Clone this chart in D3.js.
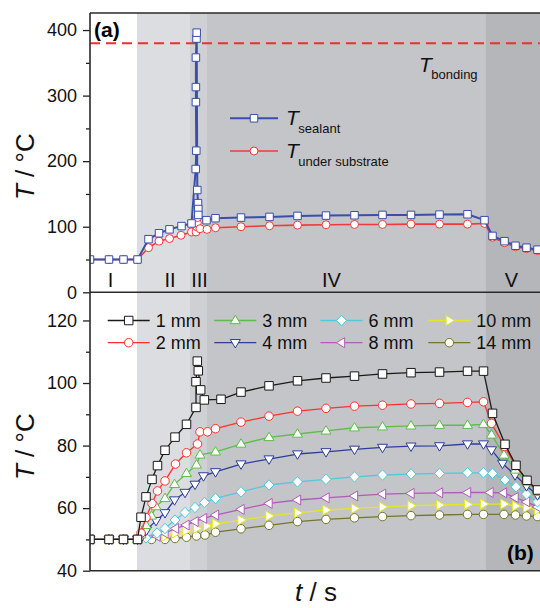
<!DOCTYPE html>
<html>
<head>
<meta charset="utf-8">
<script src="https://cdn.jsdelivr.net/npm/d3@7"></script>
<style>
  body { margin: 0; background: #fff; }
  svg { display: block; font-family: 'Liberation Sans', Arial, sans-serif; }
</style>
</head>
<body>
<div id="chart"></div>
<script>
// time stamps in s, temperatures in °C
const bandEdges = [0, 94, 200, 234, 792, 910]
const bandNames = ['I', 'II', 'III', 'IV', 'V']
const bandLabelT = [41, 160, 219, 483, 843]
const bandColors = ['#ffffff', '#dcdde0', '#cfd0d3', '#c4c5c8', '#b4b6b9']

const tBonding = 380

const sealant = [[0,50],[38,50],[67,50],[95,50],[117,81],[138,90],[159,96],[183,101],[203,105],
  [211.4,188],[212.6,216],[211.8,290],[211.8,313],[211.8,358],[213,387],[213.4,396],
  [214.6,156],[216,136],[216.6,127],[216.6,118],[233,110],[251,113],[302,114],[359,115],
  [415,116.5],[472,117],[529,117.5],[585,118],[642,118],[699,118.5],[755,119],[789,110],
  [805,86],[829,78],[851,71],[873,68],[895,65],[916,63]]

const underSubstrate = [[0,50],[38,50],[67,50],[95,50],[117,68],[138,78],[159,82],[182,87],[203,92],
  [212,92],[214,100],[214.6,106],[215,114],[220,97],[234,96],[251,98.5],[302,100],[359,101.5],
  [415,102.5],[472,103],[529,103.5],[585,103.5],[642,104],[699,104],[755,104],[789,105],
  [805,84],[829,75.6],[851,69.5],[873,66.5],[895,63.5],[916,62]]

const mm1 = [[0,50],[38,50],[67,50],[95,50],[102,57.1],[112,63.6],[124,69.2],[135,73.6],[150,78.5],
  [170,82.7],[193,86.8],[212,92.2],[212,100.4],[214.6,107],[216.6,103.9],[221.4,97.8],[228.7,94.6],
  [262,94.8],[302,97.1],[358,99.1],[415,100.7],[472,101.6],[529,102.2],[585,102.9],[642,103.3],
  [699,103.5],[755,103.8],[787,103.8],[805,90.3],[830,80.4],[852,73.7],[874,68.9],[895,65.8],[916,64]]
const mm2 = [[0,50],[38,50],[67,50],[95,50],[102,52],[112,57],[124,61.5],[135,65.5],[150,68.7],
  [171,74.1],[193,77.7],[215,80.5],[220,84.4],[235,84.4],[251,85.4],[302,87.5],[358,89.4],
  [415,91],[472,91.9],[529,92.6],[585,92.9],[642,93.3],[699,93.5],[755,93.8],[787,94],
  [803,87.1],[829,79.7],[851,73.6],[873,68.9],[895,65.5],[916,63.5]]
const mm3 = [[0,50],[38,50],[67,50],[95,50],[102,51.5],[112,54.5],[123,57.5],[132,60.5],[150,63.1],
  [169,67.6],[193,71.1],[213,73.8],[220,77],[251,78],[302,80.5],[358,82.6],[415,83.7],[472,84.7],
  [529,85.7],[585,86],[642,86.3],[699,86.5],[755,86.5],[787,86.8],[803,83.4],[828,77],[851,72.2],
  [873,68.4],[895,65.2],[916,63]]
const mm4 = [[0,50],[38,50],[67,50],[95,50],[102,50.5],[113,53],[132,56],[150,58.5],[169,62.6],
  [190,65],[210,67.6],[227,70.3],[251,71.6],[302,74.1],[358,75.7],[415,77.3],[472,78],[529,78.8],
  [585,79.4],[642,79.8],[699,79.9],[755,80.5],[787,80.5],[803,78.6],[825,74.3],[850,70.6],
  [873,67.1],[895,64.2],[916,62]]
const mm6 = [[0,50],[38,50],[67,50],[95,50],[112,50.5],[134,52],[150,53.5],[170,56.2],[190,58.6],
  [210,60.2],[229,61.8],[251,63.1],[302,65.2],[358,67.4],[415,68.4],[472,69.2],[529,70],[585,70.6],
  [642,70.9],[699,71.1],[755,71.3],[787,71.3],[805,71.1],[830,69],[852,66.8],[873,64.5],[895,62],[916,60]]
const mm8 = [[0,50],[38,50],[67,50],[95,50],[134,51],[150,52],[171,53.5],[192,54.6],[210,55.7],
  [227,56.7],[251,57.8],[302,59.6],[358,61.5],[415,62.6],[472,63.3],[529,63.9],[585,64.5],[642,64.7],
  [699,64.9],[755,65],[800,65],[827,64.9],[850,63.4],[873,62],[895,60.4],[916,59]]
const mm10 = [[0,50],[38,50],[67,50],[95,50],[150,51],[170,52],[192,52.8],[213,53.5],[233,54.3],
  [251,55],[302,56.2],[358,57.5],[415,58.5],[472,59.4],[529,59.9],[585,60.4],[642,60.8],[699,61],
  [755,61.2],[787,61.3],[828,61.3],[851,60.7],[873,60.2],[895,59.4],[916,58.5]]
const mm14 = [[0,50],[38,50],[67,50],[95,50],[123,50],[150,50],[170,50.3],[193,50.7],[213,51.1],
  [230,51.4],[251,52.3],[302,53.4],[358,54.5],[415,55.7],[472,56.4],[529,56.9],[585,57.3],[642,57.6],
  [699,57.8],[755,58],[787,58],[828,58],[851,57.8],[873,57.5],[895,57.3],[916,57]]

const depthNames = ['1 mm', '2 mm', '3 mm', '4 mm', '6 mm', '8 mm', '10 mm', '14 mm']
const depthData = [mm1, mm2, mm3, mm4, mm6, mm8, mm10, mm14]
const depthColors = ['#1a1a1a', '#ff3030', '#5cbd48', '#2e3d9c', '#4fc9dd', '#b35ab8', '#e6e61e', '#76762a']
const depthSymbols = ['square', 'circle', 'up', 'down', 'diamond', 'left', 'right', 'circle']

const ticksA = [0, 100, 200, 300, 400]
const minorA = [50, 150, 250, 350]
const ticksB = [40, 60, 80, 100, 120]
const minorB = [50, 70, 90, 110]

const width = 540
const height = 608
const left = 90
const right = 545
const topA = 13
const midY = 292.3
const bottomB = 570.7

const svg = d3.select('#chart').append('svg')
  .attr('width', width)
  .attr('height', height)

const x = d3.scaleLinear().domain([0, 910]).range([left, right])
const yA = d3.scaleLinear().domain([0, 426]).range([midY, topA])
const yB = d3.scaleLinear().domain([40, 129]).range([bottomB, midY])

svg.append('defs').append('clipPath').attr('id', 'clip')
  .append('rect').attr('x', left).attr('y', topA).attr('width', right - left).attr('height', bottomB - topA)

const plot = svg.append('g').attr('clip-path', 'url(#clip)')

// shaded stages, spanning both panels
plot.selectAll('.band')
  .data(bandColors)
  .enter().append('rect')
  .attr('x', (d, i) => x(bandEdges[i]))
  .attr('width', (d, i) => x(bandEdges[i + 1]) - x(bandEdges[i]))
  .attr('y', topA)
  .attr('height', bottomB - topA)
  .attr('fill', d => d)

// marker shapes
function markerPath(kind, s) {
  if (kind === 'square') return d3.symbol(d3.symbolSquare, s * s)()
  if (kind === 'circle') return d3.symbol(d3.symbolCircle, Math.PI * (s / 2) * (s / 2))()
  if (kind === 'diamond') {
    const h = s * 0.58
    const v = s * 0.62
    return `M0,${-v}L${h},0L0,${v}L${-h},0Z`
  }
  const r = s * 0.62
  const pts = [[0, -r], [r * 0.95, r * 0.6], [-r * 0.95, r * 0.6]]
  const ang = { up: 0, down: 180, left: -90, right: 90 }[kind] * Math.PI / 180
  return 'M' + pts.map(p => [
    p[0] * Math.cos(ang) - p[1] * Math.sin(ang),
    p[0] * Math.sin(ang) + p[1] * Math.cos(ang)
  ].map(v => v.toFixed(2)).join(',')).join('L') + 'Z'
}

function drawSeries(g, data, y, color, lw, kind, size) {
  g.append('path')
    .datum(data)
    .attr('fill', 'none')
    .attr('stroke', color)
    .attr('stroke-width', lw)
    .attr('stroke-linejoin', 'round')
    .attr('d', d3.line().x(d => x(d[0])).y(d => y(d[1])))
  g.selectAll(null)
    .data(data)
    .enter().append('path')
    .attr('transform', d => `translate(${x(d[0])},${y(d[1])})`)
    .attr('d', markerPath(kind, size))
    .attr('fill', '#fff')
    .attr('stroke', color)
    .attr('stroke-width', 1)
}

// ---- panel (a)
plot.append('line')
  .attr('x1', left).attr('x2', right)
  .attr('y1', yA(tBonding)).attr('y2', yA(tBonding))
  .attr('stroke', '#ee2f2f')
  .attr('stroke-width', 2)
  .attr('stroke-dasharray', '10,6')

drawSeries(plot, underSubstrate, yA, '#f03a3a', 1.6, 'circle', 8)
drawSeries(plot, sealant, yA, '#3a4eaa', 2, 'square', 7.5)

// ---- panel (b), deepest first so shallow ones sit on top
for (let i = depthData.length - 1; i >= 0; i--) {
  drawSeries(plot, depthData[i], yB, depthColors[i], 1.3, depthSymbols[i], 8.5)
}

// stage numerals
svg.selectAll('.stage')
  .data(bandNames)
  .enter().append('text')
  .attr('x', (d, i) => x(bandLabelT[i]))
  .attr('y', 286.7)
  .attr('text-anchor', 'middle')
  .attr('font-size', 20)
  .attr('fill', '#111')
  .text(d => d)

// panel letters
svg.append('text').attr('x', 94).attr('y', 37)
  .attr('font-size', 21).attr('font-weight', 'bold').text('(a)')
svg.append('text').attr('x', 507).attr('y', 560)
  .attr('font-size', 21).attr('font-weight', 'bold').text('(b)')

// T_bonding label
const tb = svg.append('text').attr('x', 419).attr('y', 71.7).attr('fill', '#111')
tb.append('tspan').attr('font-style', 'italic').attr('font-size', 21).text('T')
tb.append('tspan').attr('font-size', 13).attr('dy', 7.6).attr('dx', -0.5).text('bonding')

// legend (a)
const legA = [
  { sub: 'sealant', color: '#3a4eaa', kind: 'square', lw: 2, y: 118.3, size: 7.5 },
  { sub: 'under substrate', color: '#f03a3a', kind: 'circle', lw: 1.6, y: 151, size: 8 }
]
legA.forEach(d => {
  svg.append('line').attr('x1', 230).attr('x2', 278).attr('y1', d.y).attr('y2', d.y)
    .attr('stroke', d.color).attr('stroke-width', d.lw)
  svg.append('path').attr('transform', `translate(254,${d.y})`)
    .attr('d', markerPath(d.kind, d.size))
    .attr('fill', '#fff').attr('stroke', d.color)
  const t = svg.append('text').attr('x', 286).attr('y', d.y + 7).attr('fill', '#111')
  t.append('tspan').attr('font-style', 'italic').attr('font-size', 21).text('T')
  t.append('tspan').attr('font-size', 13).attr('dy', 8).attr('dx', -0.5).text(d.sub)
})

// legend (b)
const legCols = [107.7, 214.3, 320.5, 428.3]
const legRows = [320.5, 342.7]
depthNames.forEach((name, i) => {
  const cx = legCols[Math.floor(i / 2)]
  const cy = legRows[i % 2]
  svg.append('line').attr('x1', cx).attr('x2', cx + 42).attr('y1', cy).attr('y2', cy)
    .attr('stroke', depthColors[i]).attr('stroke-width', 1.3)
  svg.append('path').attr('transform', `translate(${cx + 21},${cy})`)
    .attr('d', markerPath(depthSymbols[i], 8.5))
    .attr('fill', '#fff').attr('stroke', depthColors[i])
  svg.append('text').attr('x', cx + 48).attr('y', cy + 6.5)
    .attr('font-size', 18).attr('fill', '#111').text(name)
})

// axes
function yAxis(scale, ticks, minor) {
  svg.append('g')
    .attr('transform', `translate(${left},0)`)
    .call(d3.axisLeft(scale).tickValues(ticks).tickSize(7).tickPadding(6))
    .call(g => g.select('.domain').remove())
    .call(g => g.selectAll('text').attr('font-size', 18).attr('fill', '#111').attr('font-family', null))
    .call(g => g.selectAll('line').attr('stroke', '#222').attr('stroke-width', 1.3))
  svg.append('g')
    .attr('transform', `translate(${left},0)`)
    .call(d3.axisLeft(scale).tickValues(minor).tickSize(4).tickFormat(''))
    .call(g => g.select('.domain').remove())
    .call(g => g.selectAll('line').attr('stroke', '#222').attr('stroke-width', 1.3))
}
yAxis(yA, ticksA, minorA)
yAxis(yB, ticksB, minorB)

// frame lines
;[topA, midY, bottomB].forEach(yy => {
  svg.append('line').attr('x1', left).attr('x2', right).attr('y1', yy).attr('y2', yy)
    .attr('stroke', '#2a2a2a').attr('stroke-width', 1.6)
})
svg.append('line').attr('x1', left).attr('x2', left).attr('y1', topA).attr('y2', bottomB)
  .attr('stroke', '#2a2a2a').attr('stroke-width', 1.6)

// axis titles
;[166.7, 446.7].forEach(cy => {
  const t = svg.append('text')
    .attr('transform', `translate(34,${cy}) rotate(-90)`)
    .attr('text-anchor', 'middle')
    .attr('font-size', 26)
    .attr('fill', '#111')
  t.append('tspan').attr('font-style', 'italic').text('T')
  t.append('tspan').text(' / °C')
})
const xt = svg.append('text').attr('x', 316).attr('y', 601)
  .attr('text-anchor', 'middle').attr('font-size', 26).attr('fill', '#111')
xt.append('tspan').attr('font-style', 'italic').text('t')
xt.append('tspan').text(' / s')
</script>
</body>
</html>
